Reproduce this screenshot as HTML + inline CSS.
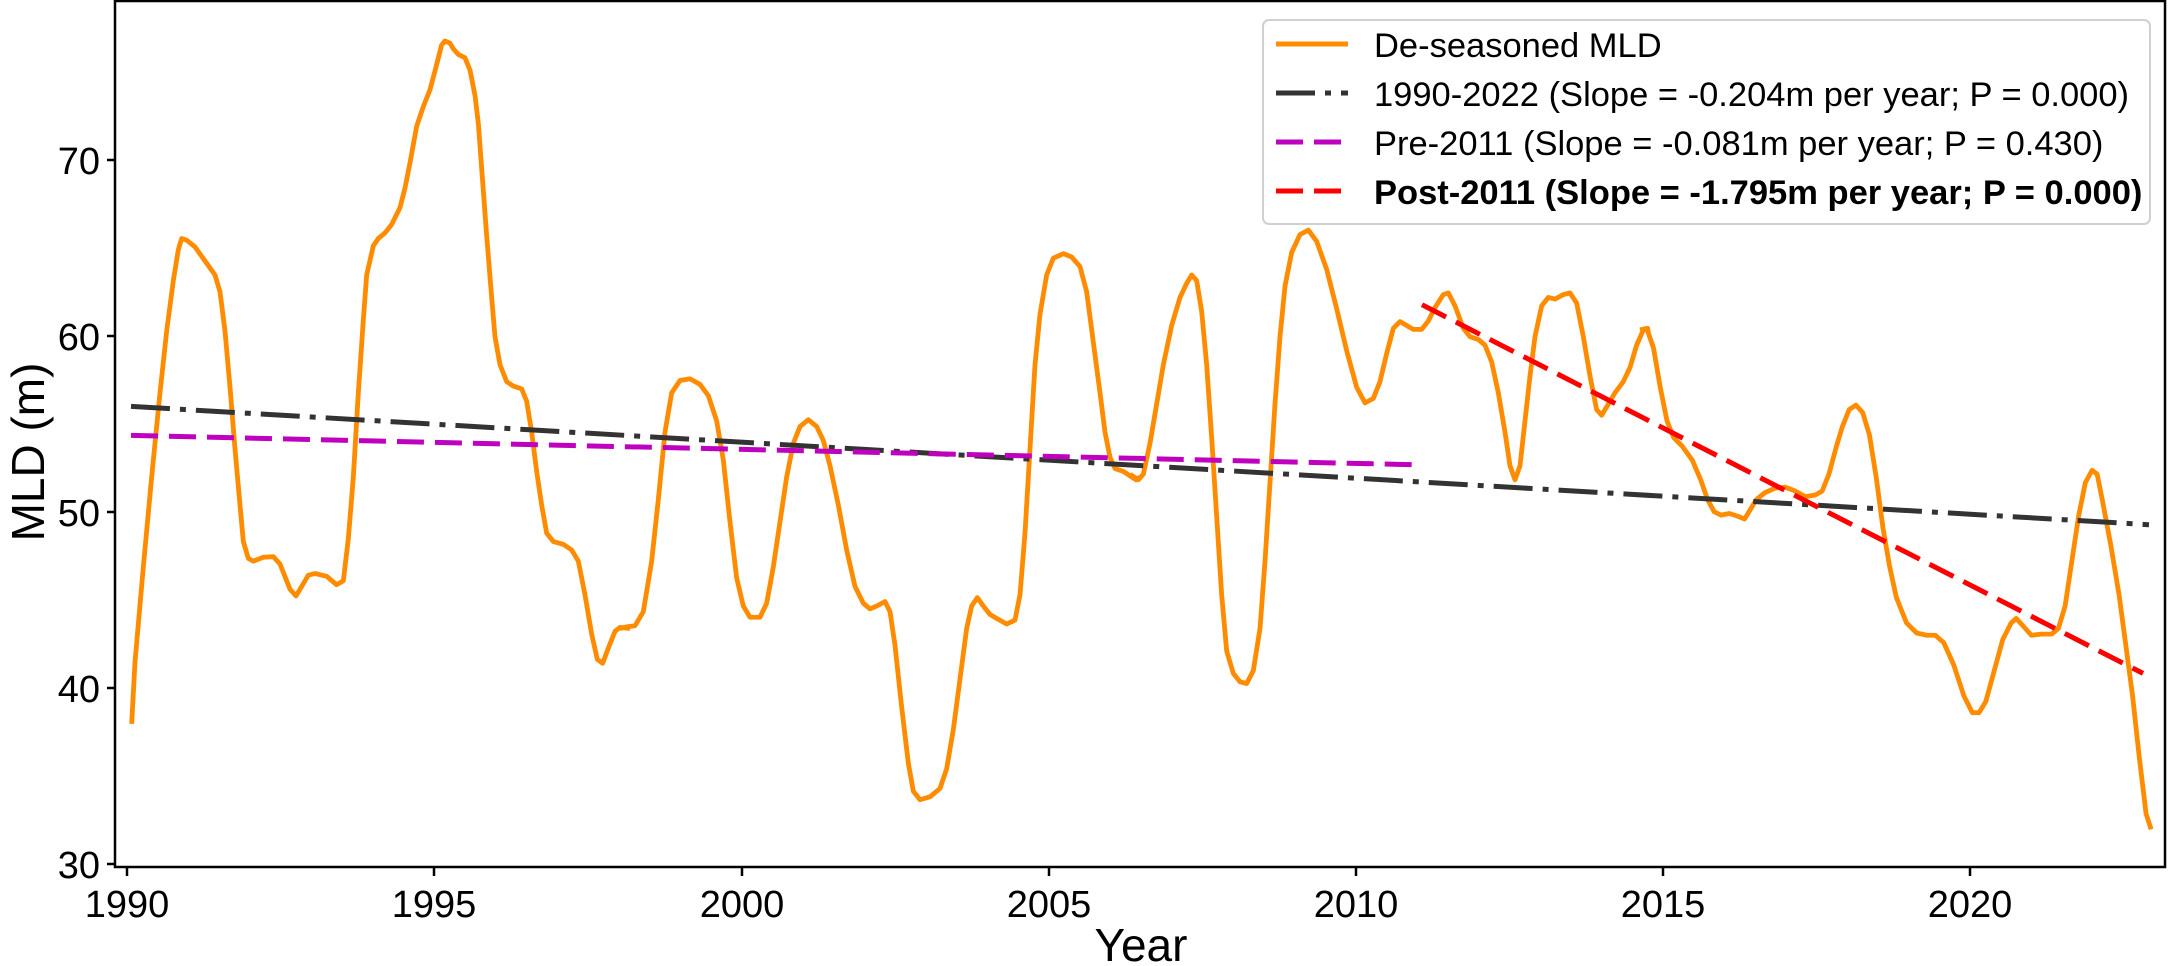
<!DOCTYPE html>
<html><head><meta charset="utf-8"><style>
html,body{margin:0;padding:0;background:#fff;}
svg{display:block;}
text{font-family:"Liberation Sans",Arial,sans-serif;fill:#000;}
</style></head><body>
<svg width="2169" height="966" viewBox="0 0 2169 966" xmlns="http://www.w3.org/2000/svg">
<rect width="2169" height="966" fill="#fff"/>
<defs><clipPath id="c"><rect x="115" y="1" width="2050" height="866"/></clipPath></defs>
<g clip-path="url(#c)" fill="none" stroke-linejoin="round">
<g stroke="#ff8c00" stroke-width="4.8">
<polyline vector-effect="non-scaling-stroke" transform="translate(110,0) scale(0.33333,0.56117)" points="65,1290 75,1180 100,1010 125,850 150,700 170,590 190,500 205,445 215,425 230,428 255,440 285,465 315,490 330,520 345,590 360,690 375,800 390,900 400,965 415,995 430,1000 460,993 490,992 510,1005 540,1050 558,1062 575,1045 595,1025 615,1022 650,1027 680,1042 700,1035 715,960 730,850 745,700 760,570 770,490 790,438 805,425 825,415 845,400 870,370 885,335 900,290 920,225 940,190 960,160 980,115 995,80 1005,73 1020,77 1030,87 1045,97 1065,103 1080,125 1095,170 1105,220 1115,300 1130,420 1145,530 1155,600 1170,650 1190,680 1210,688 1235,693 1250,715 1265,770 1280,840 1295,900 1310,950 1330,965 1360,970 1385,980 1405,1000 1425,1060 1445,1130 1462,1175 1478,1182 1495,1155 1515,1125 1530,1118 1560,1120"/>
<polyline vector-effect="non-scaling-stroke" transform="translate(620,0) scale(0.33333,0.56117)" points="0,1120 20,1117 45,1115 70,1090 95,1000 115,890 135,770 155,700 180,678 210,675 240,685 265,705 290,750 310,820 330,930 350,1030 370,1080 390,1100 420,1100 440,1075 460,1010 480,930 500,850 520,790 540,760 565,748 590,760 610,785 630,830 655,900 680,980 705,1045 730,1075 750,1085 770,1080 795,1072 810,1090 825,1150 845,1260 865,1360 880,1410 900,1425 930,1420 960,1405 980,1370 1000,1300 1020,1210 1040,1120 1055,1080 1072,1065 1090,1080 1110,1095 1130,1102 1160,1112 1185,1105 1200,1060 1215,950 1230,800 1245,650 1260,560 1280,490 1300,460 1330,452 1355,458 1380,475 1400,520 1420,610 1440,700 1455,770 1470,815 1485,835 1510,840 1530,848 1548,855 1560,850"/>
<polyline vector-effect="non-scaling-stroke" transform="translate(1130,0) scale(0.33333,0.56117)" points="0,845 25,855 40,845 60,790 80,720 100,650 125,580 150,530 170,505 185,490 200,500 215,555 230,650 245,780 260,920 275,1060 290,1160 310,1200 330,1215 350,1218 370,1195 390,1120 405,1000 420,860 435,720 450,600 465,510 485,450 510,418 535,410 560,430 590,480 620,550 650,625 680,690 705,718 730,710 750,680 770,630 790,585 810,573 830,580 850,587 875,587 895,572 915,548 940,525 955,522 975,545 1000,585 1020,600 1045,605 1065,615 1085,645 1105,700 1125,770 1140,830 1155,855 1170,830 1185,750 1200,670 1215,600 1235,545 1255,530 1275,533 1300,525 1320,522 1340,540 1360,600 1380,670 1400,730 1415,740 1430,725 1455,700 1480,680 1500,655 1520,615 1540,588 1560,585"/>
<polyline vector-effect="non-scaling-stroke" transform="translate(1640,0) scale(0.33738,0.56117)" points="0,588 20,585 40,620 60,690 80,750 100,780 125,795 155,820 180,855 200,890 220,912 240,918 265,915 290,920 310,925 330,905 345,890 370,878 400,870 430,868 460,875 490,885 520,882 540,875 560,845 580,800 600,760 620,730 640,722 660,735 680,775 700,850 720,940 740,1010 760,1065 790,1110 820,1128 850,1132 875,1132 900,1145 930,1185 960,1240 985,1270 1005,1270 1025,1250 1050,1195 1075,1140 1100,1110 1115,1102 1135,1115 1160,1132 1190,1130 1220,1130 1240,1120 1260,1080 1280,1000 1300,920 1320,860 1340,838 1355,845 1370,890 1395,970 1420,1060 1440,1150 1460,1240 1480,1350 1500,1450 1515,1478"/>
</g>
<line x1="131" y1="406.4" x2="2149" y2="524.7" stroke="#333" stroke-width="5" stroke-dasharray="39 10 6 10"/>
<line x1="131" y1="435.4" x2="1417" y2="464.8" stroke="#bf00bf" stroke-width="5" stroke-dasharray="27 11"/>
<line x1="1422" y1="304.7" x2="2143" y2="673.4" stroke="#ff0000" stroke-width="5" stroke-dasharray="27 11"/>
</g>
<rect x="115" y="1" width="2050" height="866" fill="none" stroke="#000" stroke-width="2.5"/>
<g stroke="#000" stroke-width="2.5">
<line x1="107" y1="864" x2="115" y2="864"/><line x1="107" y1="688" x2="115" y2="688"/><line x1="107" y1="512" x2="115" y2="512"/><line x1="107" y1="336" x2="115" y2="336"/><line x1="107" y1="160" x2="115" y2="160"/>
<line x1="127" y1="867" x2="127" y2="876"/><line x1="434" y1="867" x2="434" y2="876"/><line x1="742" y1="867" x2="742" y2="876"/><line x1="1049" y1="867" x2="1049" y2="876"/><line x1="1356" y1="867" x2="1356" y2="876"/><line x1="1663" y1="867" x2="1663" y2="876"/><line x1="1970" y1="867" x2="1970" y2="876"/>
</g>
<g font-size="38" text-anchor="end">
<text x="100" y="878">30</text><text x="100" y="702">40</text><text x="100" y="526">50</text><text x="100" y="350">60</text><text x="100" y="174">70</text>
</g>
<g font-size="38" text-anchor="middle">
<text x="127" y="917">1990</text><text x="434" y="917">1995</text><text x="742" y="917">2000</text><text x="1049" y="917">2005</text><text x="1356" y="917">2010</text><text x="1663" y="917">2015</text><text x="1970" y="917">2020</text>
</g>
<text x="1141" y="961" font-size="46" text-anchor="middle">Year</text>
<text transform="translate(44,452) rotate(-90)" font-size="46" text-anchor="middle">MLD (m)</text>
<rect x="1263" y="20" width="887" height="204" rx="6" fill="#fff" fill-opacity="0.85" stroke="#d0d0d0" stroke-width="2"/>
<line x1="1276" y1="44" x2="1348" y2="44" stroke="#ff8c00" stroke-width="5"/>
<line x1="1276" y1="93" x2="1348" y2="93" stroke="#333" stroke-width="5" stroke-dasharray="39 10 6 10"/>
<line x1="1276" y1="142" x2="1348" y2="142" stroke="#bf00bf" stroke-width="5" stroke-dasharray="27 11"/>
<line x1="1276" y1="191" x2="1348" y2="191" stroke="#ff0000" stroke-width="5" stroke-dasharray="27 11"/>
<g font-size="34.5">
<text x="1374" y="57">De-seasoned MLD</text>
<text x="1374" y="106">1990-2022 (Slope = -0.204m per year; P = 0.000)</text>
<text x="1374" y="155">Pre-2011 (Slope = -0.081m per year; P = 0.430)</text>
<text x="1374" y="204" font-weight="bold">Post-2011 (Slope = -1.795m per year; P = 0.000)</text>
</g>
</svg>
</body></html>
